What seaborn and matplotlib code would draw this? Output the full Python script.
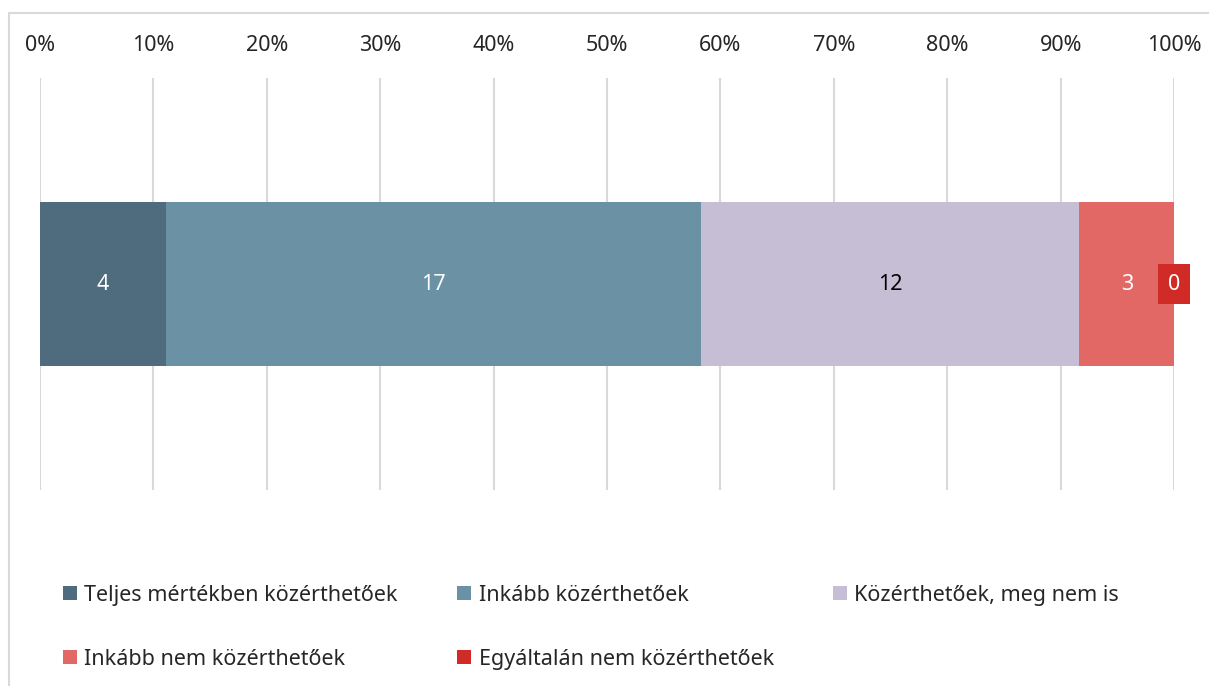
import numpy as np
import pandas as pd
import seaborn as sns
import matplotlib.pyplot as plt
from matplotlib.patches import Rectangle, Patch

categories = ["Teljes mértékben közérthetőek", "Inkább közérthetőek",
              "Közérthetőek, meg nem is", "Inkább nem közérthetőek",
              "Egyáltalán nem közérthetőek"]
counts = [4, 17, 12, 3, 0]
colors = ["#4F6B7E", "#6A91A4", "#C6BED5", "#E26866", "#D02B27"]
label_colors = ["white", "white", "black", "white", "white"]
tick_labels = ["0%", "10%", "20%", "30%", "40%", "50%", "60%", "70%", "80%", "90%", "100%"]

sns.set_style("white")
plt.rcParams['font.family'] = ['Noto Sans', 'DejaVu Sans']
FS = 15.5

total = sum(counts)
shares = np.array(counts) / total * 100
ends = np.cumsum(shares)
starts = ends - shares

df = pd.DataFrame({"cat": categories, "end": ends, "row": [""] * len(categories)})

fig = plt.figure(figsize=(12.09, 6.86), dpi=100)
ax = fig.add_axes([40 / 1209, 1 - 490 / 686, (1174 - 40) / 1209, 412 / 686])

# stacked bar: draw cumulative totals, largest first
for i in reversed(range(len(categories))):
    sns.barplot(data=df.iloc[[i]], x="end", y="row", orient="h", color=colors[i],
                width=0.4, saturation=1, linewidth=0, ax=ax, zorder=2)

for i in range(len(categories)):
    mid = starts[i] + shares[i] / 2
    if counts[i] == 0:
        ax.text(ends[i], 0, str(counts[i]), ha="center", va="center", fontsize=FS,
                color="white", zorder=5,
                bbox=dict(boxstyle="square,pad=0.45", fc=colors[i], ec="none"))
    else:
        ax.text(mid, 0, str(counts[i]), ha="center", va="center", fontsize=FS,
                color=label_colors[i], zorder=5)

ax.set_xlim(0, 100)
ax.set_ylim(0.5, -0.5)
ax.set_xticks(np.arange(0, 101, 10))
ax.set_xticklabels(tick_labels)
ax.xaxis.tick_top()
ax.tick_params(axis="x", length=0, pad=16, labelsize=FS, labelcolor="#262626")
ax.set_yticks([])
ax.set_xlabel("")
ax.set_ylabel("")
ax.grid(axis="x", color="#d9d9d9", linewidth=1.5, zorder=0)
ax.set_axisbelow(True)
for s in ax.spines.values():
    s.set_visible(False)

# outer chart border (cropped on right/bottom)
fig.patches.append(Rectangle((9 / 1209, -0.5), 2, 1.5 - 13 / 686, transform=fig.transFigure,
                             fill=False, ec="#d9d9d9", lw=1.5, zorder=0))

handles = [Patch(facecolor=c, edgecolor="none") for c in colors]
order = [0, 3, 1, 4, 2]
leg = fig.legend([handles[k] for k in order], [categories[k] for k in order],
                 loc="upper left", bbox_to_anchor=(52 / 1209, 1 - 574 / 686), ncol=3,
                 frameon=False, fontsize=FS, handlelength=0.65, handleheight=0.65,
                 handletextpad=0.35, columnspacing=2.75, labelspacing=2.0, borderpad=0,
                 labelcolor="#262626")

fig.savefig("out.png", dpi=100)
